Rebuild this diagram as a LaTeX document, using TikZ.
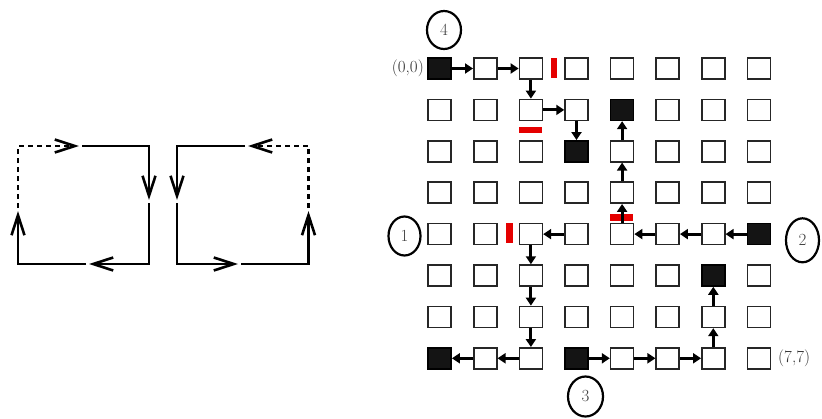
\documentclass[tikz,border=0pt]{standalone}
\usetikzlibrary{arrows.meta,shapes.geometric}
\begin{document}
\begin{tikzpicture}[x=1pt,y=-1pt,
  cell/.style={draw=black!85,line width=1.5pt,minimum width=23pt,minimum height=21pt,inner sep=0pt,fill=white},
  bcell/.style={cell,fill=black!92,draw=black},
  garrow/.style={line width=3pt,-{Triangle[length=8pt,width=10pt]}},
  redbar/.style={fill=red!90!black},
  num/.style={draw,ellipse,line width=2.2pt,inner sep=0pt,font=\fontsize{17}{20}\selectfont,text=black!75},
  lbl/.style={font=\fontsize{17}{20}\selectfont,text=black!80,inner sep=0pt},
  lp/.style={line width=2.6pt},
  ldash/.style={lp,dash pattern=on 5pt off 4pt},
  ltip/.style={-{Straight Barb[length=20pt,width=13pt]}}
]
\useasboundingbox (0,0) rectangle (822,418);

% ---- left figure ----
\coordinate (L1) at (82,146);   \coordinate (LTR) at (149,146); \coordinate (L2) at (149,200);
\coordinate (L3) at (149,203);  \coordinate (LBR) at (149,264); \coordinate (L4) at (89,264);
\coordinate (L5) at (86,264);   \coordinate (LBL) at (18,264);  \coordinate (L6) at (18,211);
\coordinate (L7) at (18,208);   \coordinate (LTL) at (18,146);  \coordinate (L8) at (79,146);
\draw[lp,ltip] (L1) -- (LTR) -- (L2);
\draw[lp,ltip] (L3) -- (LBR) -- (L4);
\draw[lp,ltip] (L5) -- (LBL) -- (L6);
\draw[ldash,ltip] (L7) -- (LTL) -- (L8);

% ---- right figure ----
\coordinate (R1) at (308.5,208); \coordinate (RTR) at (308.5,146); \coordinate (R2) at (248,146);
\coordinate (R3) at (245,146);   \coordinate (RTL) at (177,146);   \coordinate (R4) at (177,200);
\coordinate (R5) at (177,203);   \coordinate (RBL) at (177,264);   \coordinate (R6) at (238,264);
\coordinate (R7) at (241,264);   \coordinate (RBR) at (308.5,264); \coordinate (R8) at (308.5,211);
\draw[ldash,ltip] (R1) -- (RTR) -- (R2);
\draw[lp,ltip] (R3) -- (RTL) -- (R4);
\draw[lp,ltip] (R5) -- (RBL) -- (R6);
\draw[lp,ltip] (R7) -- (RBR) -- (R8);

% ---- grid ----
\foreach \r in {0,...,7}{
  \foreach \c in {0,...,7}{
    \node[cell] (c\c-\r) at ({439.7+45.6*\c},{68.5+41.4*\r}) {};
  }
}
\foreach \c/\r in {0/0,4/1,3/2,7/4,6/5,0/7,3/7}{
  \node[bcell] (b\c-\r) at (c\c-\r) {};
}

% red barriers
\fill[redbar] (550.5,58) rectangle (556.5,78);
\fill[redbar] (519.3,127.3) rectangle (542.3,133.3);
\fill[redbar] (506,223.3) rectangle (513,243.3);
\fill[redbar] (610,214.3) rectangle (633.3,221);

% path 4
\draw[garrow] (c0-0) -- (c1-0);
\draw[garrow] (c1-0) -- (c2-0);
\draw[garrow] (c2-0) -- (c2-1);
\draw[garrow] (c2-1) -- (c3-1);
\draw[garrow] (c3-1) -- (c3-2);
% path 2
\draw[garrow] (c7-4) -- (c6-4);
\draw[garrow] (c6-4) -- (c5-4);
\draw[garrow] (c5-4) -- (c4-4);
\draw[garrow] (c4-4) -- (c4-3);
\draw[garrow] (c4-3) -- (c4-2);
\draw[garrow] (c4-2) -- (c4-1);
% path 1
\draw[garrow] (c3-4) -- (c2-4);
\draw[garrow] (c2-4) -- (c2-5);
\draw[garrow] (c2-5) -- (c2-6);
\draw[garrow] (c2-6) -- (c2-7);
\draw[garrow] (c2-7) -- (c1-7);
\draw[garrow] (c1-7) -- (c0-7);
% path 3
\draw[garrow] (c3-7) -- (c4-7);
\draw[garrow] (c4-7) -- (c5-7);
\draw[garrow] (c5-7) -- (c6-7);
\draw[garrow] (c6-7) -- (c6-6);
\draw[garrow] (c6-6) -- (c6-5);

% labels
\node[num,minimum width=34pt,minimum height=38pt] (n4) at (444,30) {4};
\node[num,minimum width=32pt,minimum height=39pt] (n1) at (404.5,236) {1};
\node[num,minimum width=33pt,minimum height=44pt] (n2) at (802.5,240.3) {2};
\node[num,minimum width=35pt,minimum height=40pt] (n3) at (585.5,396.5) {3};
\node[lbl,anchor=east] (o00) at (424,68.5) {(0,0)};
\node[lbl,anchor=west] (o77) at (778,358.3) {(7,7)};
\end{tikzpicture}
\end{document}
